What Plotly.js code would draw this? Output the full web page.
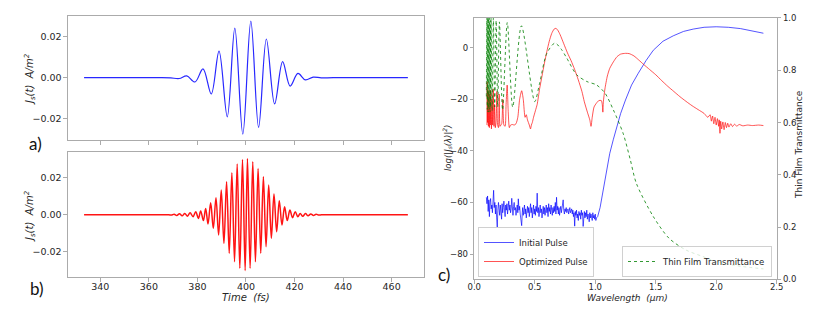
<!DOCTYPE html>
<html><head><meta charset="utf-8">
<script src="https://cdn.plot.ly/plotly-3.0.1.min.js"></script>
<style>html,body{margin:0;padding:0;background:#fff}#plot{width:830px;height:318px}</style>
</head><body><div id="plot"></div>
<script>
// Panel a: initial pulse J_s(t) — extrema (fs, A/m^2)
const timeA = [333.3, 365.0, 369.0, 372.5, 375.6, 379.0, 382.3, 385.7, 388.9, 392.3, 395.4, 398.7, 402.0, 405.2, 408.4, 411.8, 415.1, 418.2, 421.4, 424.5, 427.7, 431.0, 436.0, 466.7];
const valA  = [0, 0, -0.0001, -0.0004, 0.0009, -0.0021, 0.0043, -0.0080, 0.0131, -0.0192, 0.0243, -0.0277, 0.0278, -0.0244, 0.0190, -0.0129, 0.0079, -0.0041, 0.0021, -0.0011, 0.0003, -0.0001, 0, 0];

// Panel b: optimized pulse J_s(t)
const timeB = [333.3, 366.0, 368.2, 369.3, 370.4, 371.5, 372.6, 373.7, 374.8, 375.9,
  376.98, 378.21, 379.30, 380.40, 381.35, 382.45, 383.40, 384.36, 385.45, 386.54,
  387.64, 388.73, 389.82, 390.92, 392.01, 393.10, 394.19, 395.29, 396.38, 397.47,
  398.57, 399.66, 400.61, 401.71, 402.80, 403.89, 404.99, 406.08, 407.17, 408.27,
  409.36, 410.45, 411.54, 412.64, 413.73, 414.82, 415.91, 417.01, 418.10, 419.19,
  420.29, 421.38, 422.34, 423.4, 424.5, 425.6, 426.7, 427.8, 428.9, 430.0, 431.1, 434.0, 466.7];
const valB = [0, 0, 0, -0.0002, 0.0003, -0.0004, 0.0005, -0.0006, 0.0007, -0.0008,
  0.0011, -0.0011, 0.0016, -0.0020, 0.0020, -0.0032, 0.0034, -0.0050, 0.0065, -0.0074,
  0.0092, -0.0110, 0.0133, -0.0155, 0.0178, -0.0209, 0.0227, -0.0254, 0.0274, -0.0290,
  0.0299, -0.0302, 0.0304, -0.0290, 0.0286, -0.0254, 0.0250, -0.0209, 0.0205, -0.0173,
  0.0160, -0.0128, 0.0112, -0.0092, 0.0076, -0.0056, 0.0043, -0.0032, 0.0025, -0.0016,
  0.0016, -0.0011, 0.0007, -0.0009, 0.0006, -0.0006, 0.0004, -0.0004, 0.0003, -0.0002, 0, 0, 0];

// Panel c: spectra (wavelength in µm, log|J_s(λ)|^2) and transmittance
const lamInit = [0.100,0.105,0.110,0.115,0.120,0.125,0.130,0.135,0.140,0.145,0.150,0.155,0.160,0.165,0.170,0.175,0.180,0.185,0.190,0.195,
  0.200,0.205,0.210,0.215,0.220,0.226,0.230,0.235,0.240,0.245,0.250,0.255,0.260,0.265,0.270,0.275,0.280,0.285,0.290,0.295,
  0.300,0.305,0.310,0.315,0.320,0.325,0.330,0.335,0.340,0.345,0.350,0.355,0.360,0.364,0.370,0.375,0.380,0.385,0.392,0.397,
  0.400,0.405,0.410,0.415,0.420,0.425,0.430,0.435,0.440,0.445,0.450,0.455,0.460,0.465,0.470,0.475,0.480,0.485,0.490,0.495,
  0.500,0.505,0.510,0.515,0.520,0.525,0.530,0.535,0.540,0.545,0.550,0.555,0.560,0.565,0.570,0.575,0.580,0.585,0.590,0.595,
  0.600,0.605,0.610,0.615,0.620,0.625,0.630,0.635,0.640,0.645,0.650,0.655,0.660,0.665,0.670,0.675,0.680,0.685,0.690,0.695,
  0.700,0.705,0.710,0.715,0.720,0.725,0.730,0.735,0.740,0.745,0.750,0.755,0.760,0.765,0.770,0.775,0.780,0.785,0.790,0.795,
  0.800,0.805,0.810,0.815,0.820,0.825,0.830,0.835,0.840,0.845,0.850,0.855,0.860,0.865,0.870,0.875,0.880,0.885,0.890,0.895,
  0.900,0.905,0.910,0.915,0.920,0.925,0.930,0.935,0.940,0.945,0.950,0.955,0.960,0.965,0.970,0.975,0.980,0.985,0.990,0.995,
  1.000,1.005,1.010,1.020,1.040,1.060,1.080,1.100,1.120,1.150,1.180,1.210,1.250,1.300,1.356,1.420,1.480,1.560,1.645,1.730,
  1.810,1.900,2.000,2.100,2.200,2.300,2.390];
const valInit = [-58.0,-60.5,-57.5,-63.5,-59.0,-65.5,-60.0,-58.5,-62.5,-61.0,-64.0,-59.0,-55.3,-62.0,-60.0,-64.5,-61.0,-66.0,-69.6,-63.0,
  -60.0,-62.5,-65.0,-61.0,-63.5,-66.5,-60.5,-64.0,-62.0,-59.5,-63.0,-65.5,-61.0,-63.0,-60.5,-64.5,-62.0,-59.5,-63.0,-61.0,
  -64.0,-62.5,-58.4,-63.5,-65.0,-61.5,-60.0,-63.0,-62.0,-65.0,-63.0,-61.0,-64.0,-58.6,-63.0,-61.5,-64.5,-67.0,-69.0,-64.0,
  -62.0,-65.0,-63.0,-61.0,-64.5,-62.5,-66.0,-63.0,-61.5,-64.0,-62.0,-65.5,-63.5,-60.5,-64.0,-62.0,-66.0,-63.0,-61.0,-64.5,
  -62.5,-65.0,-61.5,-63.5,-56.4,-64.0,-62.0,-65.5,-63.0,-61.0,-64.0,-62.5,-66.0,-63.0,-61.5,-64.5,-62.0,-65.0,-63.5,-61.0,
  -64.0,-62.0,-65.5,-60.5,-63.5,-62.0,-64.5,-61.0,-63.0,-65.0,-62.0,-64.0,-61.5,-63.5,-60.0,-64.5,-58.0,-63.0,-61.5,-64.5,
  -62.0,-65.0,-63.0,-61.5,-64.0,-62.5,-60.5,-59.0,-63.0,-64.5,-62.5,-63.5,-62.0,-64.0,-63.0,-62.5,-64.5,-63.0,-62.0,-64.0,
  -63.5,-62.5,-64.5,-63.0,-65.5,-64.0,-69.2,-63.5,-65.0,-63.0,-66.0,-64.5,-67.0,-63.5,-65.0,-64.0,-66.5,-63.0,-65.0,-64.0,
  -69.3,-65.5,-63.5,-66.0,-64.0,-65.5,-63.0,-66.5,-64.5,-65.0,-67.5,-64.0,-66.0,-64.5,-65.5,-67.0,-64.0,-66.0,-65.0,-66.5,
  -64.5,-67.0,-66.0,-65.5,-62.0,-56.5,-51.0,-45.5,-41.0,-35.5,-30.0,-25.5,-20.3,-14.5,-9.9,-5.0,-1.0,2.5,4.6,6.3,
  7.2,7.9,8.1,7.9,7.4,6.6,5.6];

const lamOpt = [0.105,0.107,0.110,0.113,0.117,0.121,0.125,0.129,0.133,0.137,0.142,0.147,0.152,0.157,0.163,0.168,0.174,0.180,0.187,0.193,
  0.200,0.206,0.213,0.220,0.227,0.236,0.245,0.255,0.263,0.272,0.280,0.290,0.300,0.315,0.330,0.345,0.360,0.375,0.392,0.405,
  0.420,0.430,0.440,0.455,0.465,0.472,0.480,0.490,0.505,0.520,0.540,0.560,0.580,0.600,0.620,0.640,0.660,0.675,0.690,0.710,
  0.740,0.770,0.800,0.830,0.860,0.890,0.910,0.935,0.955,0.965,0.975,0.990,1.010,1.030,1.050,1.058,1.063,1.067,1.080,1.100,
  1.120,1.150,1.180,1.210,1.250,1.280,1.320,1.360,1.400,1.450,1.500,1.550,1.600,1.650,1.700,1.750,1.800,1.850,1.900,1.930,
  1.950,1.960,1.970,1.980,1.990,2.000,2.010,2.020,2.025,2.031,2.037,2.045,2.055,2.065,2.075,2.085,2.095,2.105,2.120,2.135,
  2.150,2.170,2.190,2.220,2.260,2.300,2.350,2.390];
const valOpt = [-30.0,-13.2,-29.0,-17.0,-30.5,-16.5,-31.0,-18.0,-30.0,-16.5,-31.5,-20.0,-30.0,-16.0,-30.5,-22.0,-31.0,-29.0,-17.0,-30.0,
  -31.0,-18.0,-30.5,-30.0,-29.5,-20.0,-30.0,-30.5,-22.0,-14.5,-24.0,-31.0,-30.0,-29.8,-30.0,-29.5,-27.0,-20.0,-16.7,-20.0,
  -27.0,-26.0,-28.0,-30.0,-31.5,-30.0,-29.0,-27.0,-24.5,-22.0,-16.0,-11.0,-6.0,-1.5,2.5,5.5,7.2,7.5,6.8,5.0,
  1.5,-2.0,-5.0,-8.5,-12.5,-17.0,-21.0,-25.0,-28.0,-30.5,-27.0,-23.0,-21.5,-20.5,-20.5,-22.0,-25.0,-21.0,-16.0,-11.0,
  -8.0,-5.5,-3.5,-2.5,-2.2,-2.3,-3.2,-4.8,-6.5,-8.5,-10.5,-12.8,-15.0,-17.0,-19.0,-20.8,-22.5,-24.0,-25.5,-27.0,
  -26.0,-28.5,-26.5,-29.5,-27.0,-30.0,-27.5,-30.5,-28.0,-33.2,-28.5,-31.5,-28.8,-31.8,-29.0,-31.0,-29.3,-30.8,-29.5,-30.6,
  -29.7,-30.4,-29.8,-30.3,-30.0,-30.2,-30.0,-30.2];

const lamTrans = [0.100,0.104,0.108,0.111,0.115,0.118,0.122,0.125,0.130,0.133,0.136,0.139,0.148,0.158,0.169,0.181,0.194,0.208,0.234,0.273,
  0.318,0.390,0.500,0.540,0.600,0.667,0.720,0.764,0.846,0.930,1.010,1.080,1.150,1.230,1.290,1.340,1.480,1.610,1.750,1.890,
  2.000,2.200,2.390];
const valTrans = [0.70,1.00,0.65,1.00,0.64,1.00,0.65,1.00,0.64,0.99,0.66,1.00,0.645,1.00,0.66,0.99,0.66,0.985,0.648,0.983,
  0.659,0.970,0.680,0.750,0.865,0.904,0.880,0.847,0.783,0.757,0.744,0.713,0.648,0.559,0.457,0.367,0.240,0.157,0.112,0.087,
  0.067,0.050,0.040];

const labelsA = ['a)','b)','c)'];

const axisCol = '#ababab';
const txtCol = '#262626';
const tickFont = {family:'DejaVu Sans', size:9.5, color:txtCol};
const tickFontC = {family:'DejaVu Sans', size:8.5, color:txtCol};

const traces = [
  {x:timeA, y:valA, xaxis:'x', yaxis:'y', type:'scatter', mode:'lines', line:{color:'rgb(40,40,255)', width:1.2, shape:'spline'}, showlegend:false},
  {x:timeB, y:valB, xaxis:'x2', yaxis:'y2', type:'scatter', mode:'lines', line:{color:'rgb(255,20,20)', width:1.5, shape:'spline'}, showlegend:false},
  {x:lamInit, y:valInit, xaxis:'x3', yaxis:'y3', type:'scatter', mode:'lines', name:'Initial Pulse', line:{color:'rgba(0,0,255,0.75)', width:0.9}, legend:'legend'},
  {x:lamOpt, y:valOpt, xaxis:'x3', yaxis:'y3', type:'scatter', mode:'lines', name:'Optimized Pulse', line:{color:'rgba(255,0,0,0.75)', width:0.9, shape:'spline', smoothing:0.6}, legend:'legend'},
  {x:lamTrans, y:valTrans, xaxis:'x3', yaxis:'y4', type:'scatter', mode:'lines', name:'Thin Film Transmittance', line:{color:'rgba(0,128,0,0.8)', width:1, dash:'dot', shape:'spline', smoothing:0.8}, legend:'legend2'}
];

const baseAx = {showline:true, mirror:true, linecolor:axisCol, linewidth:1, ticks:'outside', ticklen:3.5, tickcolor:axisCol, zeroline:false, showgrid:false};

function ann(text, px, py, size, angle, family, color) {
  return {text:text, xref:'paper', yref:'paper', x:px/830, y:1-py/318, xanchor:'center', yanchor:'middle',
    textangle:angle||0, showarrow:false, font:{family:family||'DejaVu Sans', size:size, color:color||txtCol}};
}

const layout = {
  width:830, height:318, margin:{l:0,r:0,t:0,b:0}, paper_bgcolor:'#fff', plot_bgcolor:'#fff',
  font:{family:'DejaVu Sans', color:txtCol},
  xaxis: Object.assign({}, baseAx, {domain:[0.0819,0.5108], anchor:'y', range:[326.67,473.33], dtick:20, tick0:340, showticklabels:false}),
  yaxis: Object.assign({}, baseAx, {domain:[0.5597,0.9497], anchor:'x', range:[-0.0306,0.0303], tickvals:[-0.02,0,0.02], tickformat:'.2f', tickfont:tickFont}),
  xaxis2: Object.assign({}, baseAx, {domain:[0.0819,0.5108], anchor:'y2', range:[326.67,473.33], dtick:20, tick0:340, tickfont:tickFont, ticklabelstandoff:-3}),
  yaxis2: Object.assign({}, baseAx, {domain:[0.1289,0.522], anchor:'x2', range:[-0.0337,0.0339], tickvals:[-0.02,0,0.02], tickformat:'.2f', tickfont:tickFont}),
  xaxis3: Object.assign({}, baseAx, {domain:[0.5714,0.9358], anchor:'y3', range:[0,2.5], dtick:0.5, tick0:0, tickformat:'.1f', tickfont:tickFontC, ticklabelstandoff:-4}),
  yaxis3: Object.assign({}, baseAx, {domain:[0.1217,0.9434], anchor:'x3', range:[-89.8,11.5], tickvals:[-80,-60,-40,-20,0], tickfont:tickFontC}),
  yaxis4: Object.assign({}, baseAx, {mirror:false, overlaying:'y3', side:'right', anchor:'x3', range:[0,1], dtick:0.2, tick0:0, tickformat:'.1f', tickfont:tickFontC}),
  legend:{x:478/830, y:1-277/318, xanchor:'left', yanchor:'bottom', bgcolor:'rgba(255,255,255,0.8)', bordercolor:'#d0d0d0', borderwidth:1, font:{family:'DejaVu Sans', size:8.5, color:txtCol}, tracegroupgap:0},
  legend2:{x:772/830, y:1-277/318, xanchor:'right', yanchor:'bottom', bgcolor:'rgba(255,255,255,0.8)', bordercolor:'#d0d0d0', borderwidth:1, font:{family:'DejaVu Sans', size:8.5, color:txtCol}},
  annotations:[
    ann('<i>J<sub>s</sub>(t)  A/m<sup>2</sup></i>', 30, 79, 10, -90),
    ann('<i>J<sub>s</sub>(t)  A/m<sup>2</sup></i>', 30, 216, 10, -90),
    ann('<i>Time  (fs)</i>', 246, 297, 10),
    ann('<i>Wavelength  (μm)</i>', 627, 298, 9),
    ann('<i>log(|J<sub>s</sub>(λ)|<sup>2</sup>)</i>', 447, 148, 8.5, -90),
    ann('Thin Film Transmittance', 799, 145, 9, -90),
    ann(labelsA[0], 35, 143, 17, 0, 'Lato', '#111'),
    ann(labelsA[1], 37, 288, 17, 0, 'Lato', '#111'),
    ann(labelsA[2], 444, 274, 17, 0, 'Lato', '#111')
  ]
};

Plotly.newPlot('plot', traces, layout, {staticPlot:true, displayModeBar:false});
</script>
</body></html>
